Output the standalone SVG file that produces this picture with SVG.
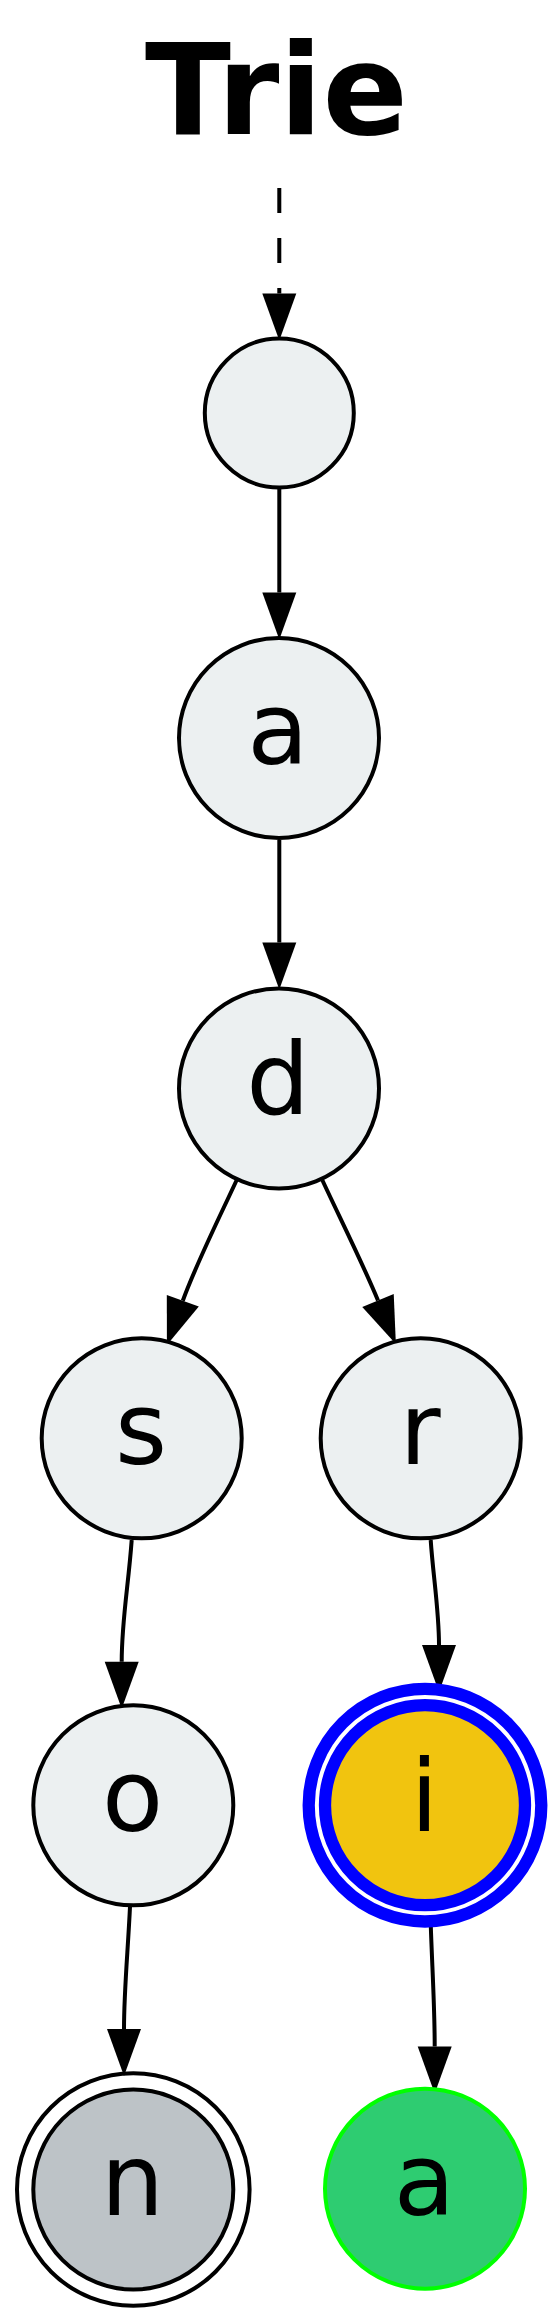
<svg xmlns="http://www.w3.org/2000/svg" width="559" height="2323" viewBox="0 0 559 2323">
<style>
.title{font-family:"DejaVu Sans","Liberation Sans",sans-serif;font-weight:bold;font-size:126px;text-anchor:middle;fill:#000}
.lbl{font-family:"DejaVu Sans","Liberation Sans",sans-serif;font-size:100px;text-anchor:middle;fill:#000}
.plain{fill:#ecf0f1;stroke:#000;stroke-width:4}
.edge{fill:none;stroke:#000;stroke-width:4}
</style>
<defs>
<marker id="arr" markerUnits="userSpaceOnUse" markerWidth="60" markerHeight="40" refX="0" refY="20" orient="auto" overflow="visible">
<path d="M0,3 L47,20 L0,37 Z" fill="#000"/>
</marker>
</defs>
<rect x="0" y="0" width="559" height="2323" fill="#fff"/>
<text class="title" x="276.5" y="134">Trie</text>
<g id="connectors">
<path class="edge" d="M279.3,188 L279.3,293.5" stroke-dasharray="25 25" marker-end="url(#arr)"/>
<path class="edge" d="M279.3,489 L279.3,592.5" marker-end="url(#arr)"/>
<path class="edge" d="M279.3,840 L279.3,942.5" marker-end="url(#arr)"/>
<path class="edge" d="M236.7,1180 C222,1212 196,1264 182.8,1300.8" marker-end="url(#arr)"/>
<path class="edge" d="M322.3,1180 C337,1212 363,1264 378,1300.5" marker-end="url(#arr)"/>
<path class="edge" d="M131.7,1540 C128.5,1585 121.7,1620 121.7,1661.7" marker-end="url(#arr)"/>
<path class="edge" d="M430.7,1540 C433,1575 439,1610 439,1645" marker-end="url(#arr)"/>
<path class="edge" d="M130,1906.7 C128,1950 124,1990 124,2029" marker-end="url(#arr)"/>
<path class="edge" d="M430.7,1923 C432,1965 434.7,2005 434.7,2046.5" marker-end="url(#arr)"/>
</g>
<g id="node-root">
<circle class="plain" cx="279.3" cy="413" r="74.5"/>
</g>
<g id="node-a">
<circle class="plain" cx="279" cy="738" r="100"/>
<text class="lbl" x="278" y="764.3">a</text>
</g>
<g id="node-d">
<circle class="plain" cx="279" cy="1088.4" r="100"/>
<text class="lbl" x="278" y="1114.4">d</text>
</g>
<g id="node-s">
<circle class="plain" cx="141.7" cy="1438.3" r="100"/>
<text class="lbl" x="141" y="1463.5">s</text>
</g>
<g id="node-r">
<circle class="plain" cx="420.7" cy="1438.3" r="100"/>
<text class="lbl" x="420" y="1463.5">r</text>
</g>
<g id="node-o">
<circle class="plain" cx="133.3" cy="1805.3" r="100"/>
<text class="lbl" x="132.5" y="1831">o</text>
</g>
<g id="node-i">
<circle cx="425" cy="1805.2" r="116.3" fill="none" stroke="#0000ff" stroke-width="12.3"/>
<circle cx="425" cy="1805.2" r="100" fill="#f1c40f" stroke="#0000ff" stroke-width="12.3"/>
<text class="lbl" x="424.5" y="1831">i</text>
</g>
<g id="node-n">
<circle cx="133.3" cy="2189.5" r="116.3" fill="none" stroke="#000" stroke-width="4"/>
<circle cx="133.3" cy="2189.5" r="100" fill="#bdc3c7" stroke="#000" stroke-width="4"/>
<text class="lbl" x="132.5" y="2215">n</text>
</g>
<g id="node-a2">
<circle cx="425" cy="2188.7" r="100" fill="#2ecc71" stroke="#00ff00" stroke-width="4"/>
<text class="lbl" x="424.5" y="2215">a</text>
</g>
</svg>
